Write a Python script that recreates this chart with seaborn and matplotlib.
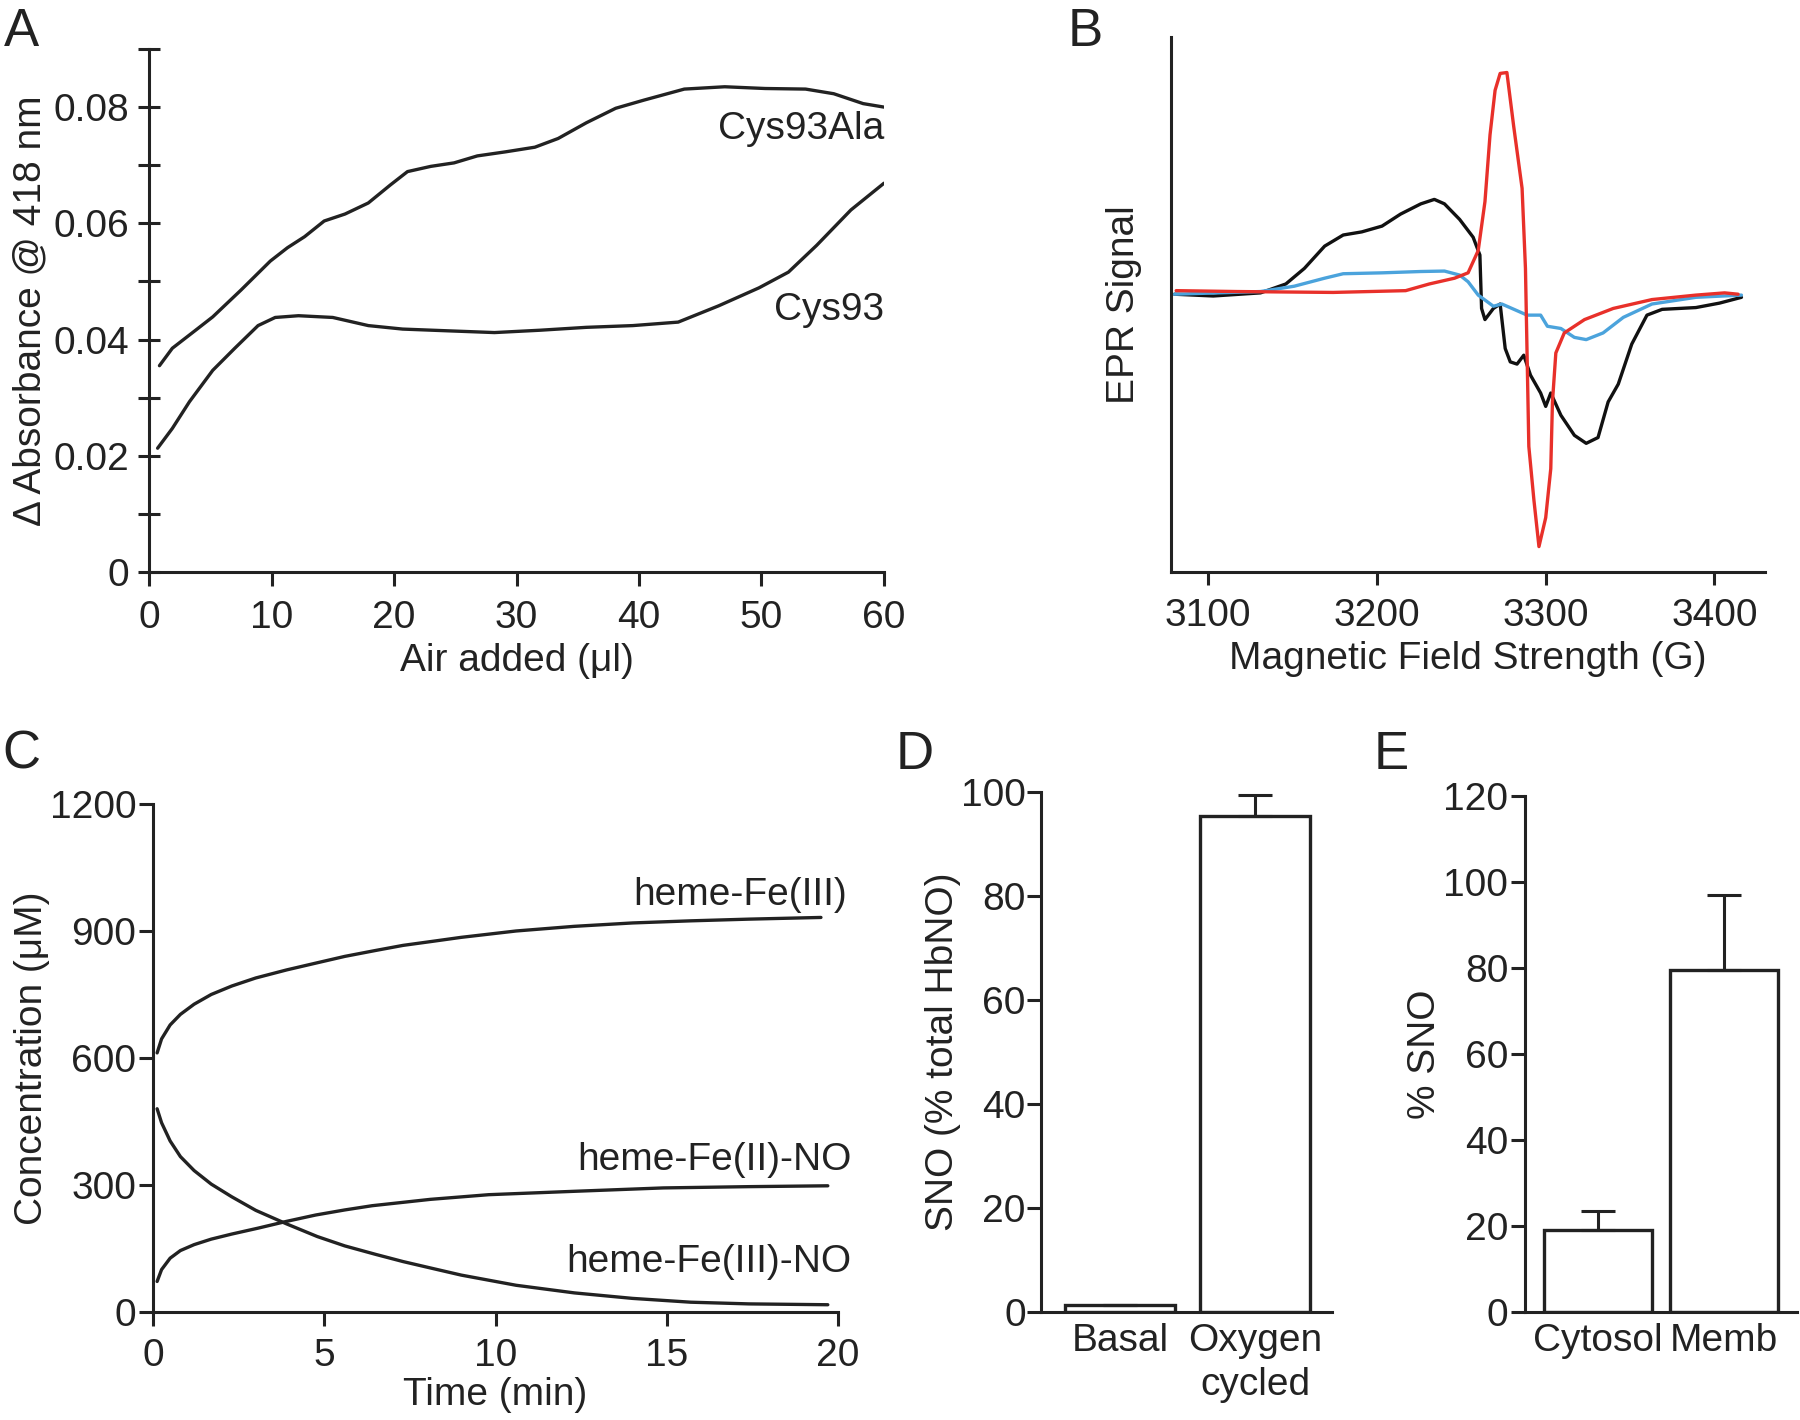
import numpy as np
import pandas as pd
import matplotlib
matplotlib.use("Agg")
import matplotlib.pyplot as plt
import seaborn as sns

# Panel A: absorbance change vs. air added
air_ala = [0.85, 1.9, 3.8, 5.2, 7.5, 9.9, 11.3, 12.7, 14.3, 16.0, 17.9, 19.7, 21.1, 23.0,
           24.9, 26.8, 29.1, 31.5, 33.4, 35.7, 38.1, 40.4, 43.7, 47.0, 50.3, 53.6, 55.9, 58.3, 60.0]
abs_ala = [0.0355, 0.0385, 0.0416, 0.0439, 0.0485, 0.0535, 0.0558, 0.0577, 0.0604, 0.0616,
           0.0635, 0.0666, 0.0689, 0.0698, 0.0704, 0.0716, 0.0723, 0.0731, 0.0746, 0.0773,
           0.0798, 0.0812, 0.0831, 0.0835, 0.0832, 0.0831, 0.0823, 0.0806, 0.0800]
air_cys = [0.7, 1.9, 3.3, 5.2, 7.0, 8.9, 10.3, 12.2, 15.0, 17.9, 20.7, 24.4, 28.2, 31.9,
           35.7, 39.5, 43.2, 46.5, 49.8, 52.2, 54.5, 57.3, 60.0]
abs_cys = [0.0213, 0.0247, 0.0293, 0.0347, 0.0385, 0.0424, 0.0438, 0.0441, 0.0438, 0.0424,
           0.0418, 0.0415, 0.0412, 0.0416, 0.0421, 0.0424, 0.0430, 0.0458, 0.0489, 0.0516,
           0.0562, 0.0623, 0.0669]

# Panel B: EPR spectra (arbitrary units)
field_red = [3081, 3117, 3174, 3217, 3231, 3246, 3254, 3260, 3264, 3267, 3270, 3273, 3277,
             3281, 3286, 3288, 3289, 3290, 3293, 3296, 3300, 3303, 3304, 3306, 3311, 3323,
             3340, 3363, 3389, 3406, 3414]
epr_red = [0.05, 0.03, 0.01, 0.05, 0.2, 0.33, 0.45, 0.95, 2.05, 3.55, 4.55, 4.93, 4.95,
           3.75, 2.35, 0.55, -1.45, -3.45, -4.65, -5.7, -5.05, -3.95, -2.45, -1.35, -0.9,
           -0.6, -0.35, -0.15, -0.05, 0.0, -0.03]
field_black = [3080, 3103, 3131, 3146, 3157, 3169, 3180, 3191, 3203, 3214, 3226, 3234, 3240,
               3249, 3257, 3261, 3262, 3264, 3269, 3273, 3276, 3279, 3283, 3287, 3291, 3297,
               3300, 3303, 3309, 3317, 3324, 3331, 3337, 3343, 3351, 3360, 3369, 3389, 3403, 3416]
epr_black = [-0.03, -0.07, 0.0, 0.2, 0.55, 1.05, 1.3, 1.37, 1.5, 1.77, 2.0, 2.1, 2.0, 1.65,
             1.25, 0.85, -0.35, -0.6, -0.35, -0.25, -1.25, -1.55, -1.6, -1.4, -1.85, -2.25,
             -2.55, -2.25, -2.75, -3.2, -3.38, -3.25, -2.45, -2.05, -1.15, -0.5, -0.37, -0.33,
             -0.23, -0.1]
field_blue = [3080, 3131, 3151, 3169, 3180, 3203, 3226, 3240, 3249, 3254, 3260, 3269, 3274,
              3280, 3289, 3297, 3301, 3309, 3317, 3324, 3334, 3346, 3363, 3389, 3416]
epr_blue = [-0.03, 0.03, 0.15, 0.33, 0.43, 0.45, 0.48, 0.49, 0.4, 0.25, -0.05, -0.3, -0.25,
            -0.35, -0.5, -0.5, -0.75, -0.8, -1.0, -1.05, -0.9, -0.55, -0.25, -0.1, -0.05]

# Panel C: concentration time courses
t_fe3 = [0.12, 0.25, 0.5, 0.8, 1.2, 1.7, 2.3, 3.0, 3.9, 4.8, 5.6, 6.5, 7.3, 8.2, 9.0, 10.6,
         12.3, 14.0, 15.7, 17.4, 19.5]
c_fe3 = [612, 645, 678, 703, 727, 750, 770, 789, 808, 825, 840, 854, 866, 876, 885, 900,
         911, 919, 924, 928, 932]
t_fe2no = [0.12, 0.25, 0.5, 0.8, 1.2, 1.7, 2.3, 3.07, 3.9, 4.75, 5.6, 6.4, 8.1, 9.8, 12.3,
           14.9, 17.4, 19.7]
c_fe2no = [72, 100, 127, 145, 159, 172, 184, 198, 214, 229, 241, 251, 266, 277, 285, 293,
           296, 298]
t_fe3no = [0.12, 0.25, 0.5, 0.8, 1.2, 1.7, 2.3, 3.0, 3.9, 4.8, 5.6, 6.5, 7.3, 8.2, 9.0,
           10.6, 12.3, 14.0, 15.7, 17.4, 19.7]
c_fe3no = [480, 447, 404, 367, 334, 302, 272, 240, 208, 178, 156, 136, 119, 102, 87, 63,
           45, 32, 23, 19, 17]

# Panel D / E: bar charts
d_cats = ["Basal", "Oxygen\ncycled"]
d_vals = [1.3, 95.4]
d_err = [0, 4.0]
e_cats = ["Cytosol", "Memb"]
e_vals = [19.0, 79.5]
e_err = [4.5, 17.5]

sns.set_theme(style="ticks")
plt.rcParams["font.family"] = ["Liberation Sans", "DejaVu Sans"]
plt.rcParams["axes.linewidth"] = 2.2
plt.rcParams["xtick.major.width"] = 2.2
plt.rcParams["ytick.major.width"] = 2.2
plt.rcParams["xtick.color"] = "#222222"
plt.rcParams["ytick.color"] = "#222222"
plt.rcParams["axes.edgecolor"] = "#222222"
plt.rcParams["text.color"] = "#222222"
plt.rcParams["axes.labelcolor"] = "#222222"
plt.rcParams["lines.solid_joinstyle"] = "round"

FS = 28
fig = plt.figure(figsize=(18, 14.2), dpi=100)

def style(ax):
    sns.despine(ax=ax)
    ax.tick_params(labelsize=FS, length=10, pad=4)

# ---- A ----
axA = fig.add_axes([0.0828, 0.5972, 0.4083, 0.3683])
sns.lineplot(x=air_ala, y=abs_ala, ax=axA, color="#222222", lw=2.4, estimator=None)
sns.lineplot(x=air_cys, y=abs_cys, ax=axA, color="#222222", lw=2.4, estimator=None)
axA.set_xlim(0, 60)
axA.set_ylim(0, 0.09)
axA.set_xticks(range(0, 61, 10))
axA.set_yticks(np.arange(0, 0.0901, 0.01))
axA.set_yticklabels(["0", "", "0.02", "", "0.04", "", "0.06", "", "0.08", ""])
style(axA)
axA.tick_params(axis="y", direction="inout", length=16, pad=6)
axA.tick_params(axis="x", pad=10)
axA.set_xlabel("Air added (μl)", fontsize=FS, labelpad=5)
axA.set_ylabel("Δ Absorbance @ 418 nm", fontsize=FS, labelpad=4)
axA.text(60, 0.0762, "Cys93Ala", fontsize=FS, ha="right", va="center")
axA.text(60, 0.045, "Cys93", fontsize=FS, ha="right", va="center")

# ---- B ----
axB = fig.add_axes([0.6506, 0.5972, 0.33, 0.3768])
sns.lineplot(x=field_black, y=epr_black, ax=axB, color="#111111", lw=2.4, estimator=None)
sns.lineplot(x=field_blue, y=epr_blue, ax=axB, color="#4ba3dc", lw=2.4, estimator=None)
sns.lineplot(x=field_red, y=epr_red, ax=axB, color="#e8302a", lw=2.4, estimator=None)
axB.set_xlim(3078, 3430)
axB.set_ylim(-6.27, 5.75)
axB.set_xticks([3100, 3200, 3300, 3400])
axB.set_yticks([])
style(axB)
axB.tick_params(axis="x", length=9, pad=10)
axB.set_xlabel("Magnetic Field Strength (G)", fontsize=FS, labelpad=5)
axB.set_ylabel("EPR Signal", fontsize=FS, labelpad=21)

# ---- C ----
axC = fig.add_axes([0.085, 0.0761, 0.3806, 0.3577])
for t, c in [(t_fe3, c_fe3), (t_fe2no, c_fe2no), (t_fe3no, c_fe3no)]:
    sns.lineplot(x=t, y=c, ax=axC, color="#222222", lw=2.4, estimator=None)
axC.set_xlim(0, 20)
axC.set_ylim(0, 1200)
axC.set_xticks([0, 5, 10, 15, 20])
axC.set_yticks([0, 300, 600, 900, 1200])
style(axC)
axC.tick_params(axis="x", pad=9)
axC.tick_params(axis="y", pad=2)
axC.set_xlabel("Time (min)", fontsize=FS, labelpad=2)
axC.set_ylabel("Concentration (μM)", fontsize=FS, labelpad=0)
axC.text(20.25, 986, "heme-Fe(III)", fontsize=FS, ha="right", va="center")
axC.text(20.4, 358, "heme-Fe(II)-NO", fontsize=FS, ha="right", va="center")
axC.text(20.4, 119, "heme-Fe(III)-NO", fontsize=FS, ha="right", va="center")

# ---- D ----
axD = fig.add_axes([0.5783, 0.0761, 0.1617, 0.3662])
sns.barplot(x=d_cats, y=d_vals, ax=axD, color="white", saturation=1, edgecolor="#222222",
            linewidth=2.4, width=0.82, errorbar=None)
axD.errorbar([0, 1], d_vals, yerr=[[0, 0], d_err], fmt="none", ecolor="#222222",
             elinewidth=2.2, capsize=12, capthick=2.2)
axD.set_xlim(-0.585, 1.57)
axD.set_ylim(0, 100)
axD.set_yticks([0, 20, 40, 60, 80, 100])
style(axD)
axD.tick_params(axis="y", pad=1)
axD.tick_params(axis="x", length=0, pad=8)
for lab in axD.get_xticklabels():
    lab.set_linespacing(1.3)
axD.set_xlabel("")
axD.set_ylabel("SNO (% total HbNO)", fontsize=FS, labelpad=0)

# ---- E ----
axE = fig.add_axes([0.8472, 0.0761, 0.1511, 0.3634])
sns.barplot(x=e_cats, y=e_vals, ax=axE, color="white", saturation=1, edgecolor="#222222",
            linewidth=2.4, width=0.86, errorbar=None)
axE.errorbar([0, 1], e_vals, yerr=[[0, 0], e_err], fmt="none", ecolor="#222222",
             elinewidth=2.2, capsize=12, capthick=2.2)
axE.set_xlim(-0.58, 1.58)
axE.set_ylim(0, 120)
axE.set_yticks([0, 20, 40, 60, 80, 100, 120])
style(axE)
axE.tick_params(axis="y", pad=2)
axE.tick_params(axis="x", length=0, pad=8)
axE.set_xlabel("")
axE.set_ylabel("% SNO", fontsize=FS, labelpad=0)

# panel letters
for x, y, s in [(21, 32, "A"), (1085, 32, "B"), (21, 755, "C"), (915, 755, "D"), (1391, 755, "E")]:
    fig.text(x / 1800, 1 - y / 1420, s, fontsize=38, ha="center", va="center")

fig.savefig("out.png", dpi=100)
